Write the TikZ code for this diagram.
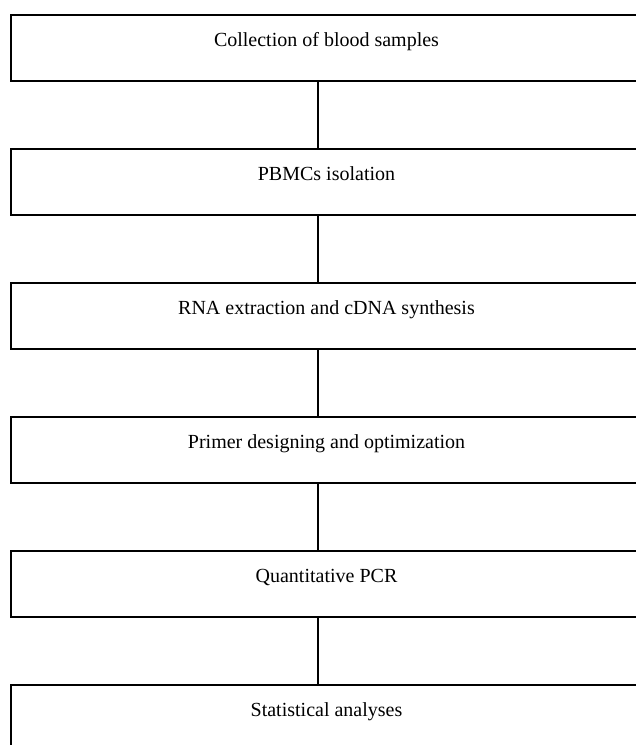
\documentclass[tikz,border=0pt]{standalone}
\usepackage{fontspec}
\setmainfont{Liberation Serif}
\begin{document}
\begin{tikzpicture}[x=1pt,y=1pt,
  stepbox/.style={draw=black,line width=1.8pt,rectangle,minimum width=633pt,minimum height=66pt,anchor=north west,inner sep=0pt},
  steptext/.style={anchor=base,font=\fontsize{20}{24}\selectfont,inner sep=0pt},
  link/.style={draw=black,line width=1.8pt}]
\useasboundingbox (0,0) rectangle (636,-745);
\clip (0,0) rectangle (636,-745);
\foreach \i/\t in {1/Collection of blood samples,2/PBMCs isolation,3/RNA extraction and cDNA synthesis,4/Primer designing and optimization,5/Quantitative PCR,6/Statistical analyses}{
  \node[stepbox] (b\i) at (10,{-14-134*(\i-1)}) {};
  \node[steptext] (t\i) at (326.5,{-46-134*(\i-1)}) {\t};
}
\foreach \i [evaluate=\i as \j using int(\i+1)] in {1,...,5}{
  \draw[link] ([xshift=-9.5pt]b\i.south) -- ([xshift=-9.5pt]b\j.north);
}
\end{tikzpicture}
\end{document}
